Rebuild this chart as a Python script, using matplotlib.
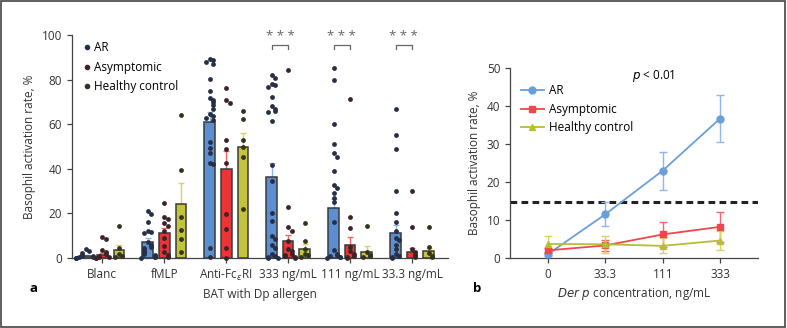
import matplotlib
matplotlib.use('Agg')
import matplotlib.pyplot as plt
from matplotlib.lines import Line2D
from matplotlib.patches import Rectangle
import numpy as np

plt.rcParams['font.family'] = ['Open Sans', 'DejaVu Sans']
plt.rcParams['font.size'] = 8

# ---- data, panel a ----
groups = ['Blanc', 'fMLP', 'Anti-Fc$_\\varepsilon$RI', '333 ng/mL', '111 ng/mL', '33.3 ng/mL']
series = ['AR', 'Asymptomic', 'Healthy control']

bar_ar = [0.8, 7.2, 61, 36.3, 22.3, 11]
bar_asym = [1.3, 11, 39.8, 7.8, 5.8, 2.8]
bar_hc = [3.5, 24, 50, 4.2, 2.8, 3.3]
err_ar = [0.7, 1.6, 4.5, 6.2, 4.0, 3.8]
err_asym = [0.8, 2.3, 8.0, 2.6, 3.5, 1.5]
err_hc = [2.2, 9.5, 6.0, 2.0, 2.6, 1.0]

dots_ar = [
    [3.9, 3.0, 2.2, 1.5, 1.0, 0.8, 0.5, 0.3, 0.2, 0.1, 0.0, 0.0],
    [21.2, 19.8, 16.3, 12.0, 11.5, 11.2, 7.0, 6.0, 5.0, 4.5, 4.0, 3.0, 2.5, 2.0, 1.5, 1.0, 0.5, 0.3, 0.0],
    [89.3, 88.8, 88.1, 86.9, 80.2, 74.9, 71.7, 70.9, 69.9, 68.4, 66.9, 64.5, 63.9, 63.0, 61.9,
     52.2, 49.5, 47.0, 42.8, 42.3, 4.5, 0.6],
    [82, 80.5, 78, 77.5, 76.5, 72, 68, 67, 66, 65.5, 61.5, 41.5, 34.5, 20, 16.5, 10, 8.5, 6,
     4.5, 2, 1, 0.5, 0.2, 0],
    [85, 80, 60, 51, 47, 45.5, 38.8, 32.8, 31.5, 29.2, 27, 25, 16, 3.5, 2, 1.5, 1, 0.5, 0.3, 0],
    [67, 55, 49, 30, 20, 16, 12, 9, 8, 6, 4, 2, 1, 0.5, 0],
]
dots_asym = [
    [9.6, 8.6, 3.6, 2.5, 1.6, 1.0, 0.6, 0.3, 0.0],
    [24.8, 18.2, 17.5, 15.5, 14.3, 12.0, 8.8, 5.5, 2.8, 1.3, 0.5],
    [76.1, 70.9, 69.4, 53.0, 49.0, 42.5, 19.7, 13.1, 4.5, 0.0],
    [84.5, 22.7, 13.8, 12.3, 7.5, 4, 3, 2, 1.5, 1, 0.5, 0],
    [71.2, 18.6, 13.4, 5, 3, 2, 1, 0.5, 0],
    [30.2, 14, 4, 2.5, 1.5, 0.5],
]
dots_hc = [
    [14.5, 4.3, 2.0, 1.0, 0.5],
    [64, 39.4, 18.2, 12.5, 8.5, 2.8],
    [66, 62.5, 53, 50, 45.5, 22],
    [15.8, 7.8, 3.9, 2, 1.3, 0.5],
    [14.5, 2.5, 1.5, 0.8, 0.3],
    [13.7, 5, 2.2, 1, 0.3],
]

# ---- data, panel b ----
conc = ['0', '33.3', '111', '333']
line_ar = [1.0, 11.5, 23.0, 36.7]
line_ar_err = [0.6, 3.2, 5.0, 6.2]
line_asym = [2.0, 3.3, 6.2, 8.2]
line_asym_err = [0.6, 1.4, 3.4, 4.0]
line_hc = [3.7, 3.6, 3.2, 4.6]
line_hc_err = [2.2, 2.2, 2.0, 2.4]
cutoff = 14.7

# colours
bar_cols = ['#5b8fd1', '#ec3438', '#c3c43c']
err_cols = ['#8fb6e6', '#f0676a', '#d6d65a']
dot_cols = ['#262f45', '#3b2326', '#33331f']
line_cols = ['#6a9fdc', '#f0474a', '#b9be30']
axis_col = '#444444'


def swarm_offsets(vals, dy=1.7, step=0.055):
    # simple deterministic spread for overlapping dots
    placed = []
    offs = []
    pattern = [0, 1, -1, 2, -2, 3, -3]
    for v in vals:
        n = sum(1 for p in placed if abs(p - v) < dy)
        offs.append(pattern[min(n, len(pattern) - 1)] * step)
        placed.append(v)
    return np.array(offs)


fig = plt.figure(figsize=(7.87, 3.28), dpi=100)

# ================= panel a =================
axa = fig.add_axes([72 / 787, 70 / 328, 376 / 787, 223 / 328])
x = np.arange(len(groups))
off = 0.267
w = 0.17
bars = [bar_ar, bar_asym, bar_hc]
errs = [err_ar, err_asym, err_hc]
dots = [dots_ar, dots_asym, dots_hc]
for k in range(3):
    xs = x + (k - 1) * off
    axa.errorbar(xs, bars[k], yerr=[np.zeros(len(xs)), errs[k]], fmt='none',
                 ecolor=err_cols[k], elinewidth=1.0, capsize=2.5, capthick=1.0, zorder=1)
    axa.bar(xs, bars[k], width=w, color=bar_cols[k], edgecolor='#3a3a3a',
            linewidth=1.1, zorder=2)
    for g in range(len(groups)):
        v = np.array(dots[k][g])
        axa.scatter(xs[g] + swarm_offsets(v), v, s=12, color=dot_cols[k],
                    zorder=3, clip_on=False, linewidths=0)

axa.set_xlim(-0.49, 5.58)
axa.set_ylim(0, 100)
axa.set_yticks([0, 20, 40, 60, 80, 100])
axa.set_xticks(x)
axa.set_xticklabels(groups)
axa.set_ylabel('Basophil activation rate, %', labelpad=4)
axa.set_xlabel('BAT with Dp allergen', labelpad=4)

# significance brackets
for g in [3, 4, 5]:
    x1 = g - off
    x2 = g
    axa.plot([x1, x1, x2, x2], [93.5, 95.3, 95.3, 93.5], color='#666666', lw=0.9,
             clip_on=False)
    axa.text((x1 + x2) / 2, 96.2, '* * *', ha='center', va='bottom', color='#666666',
             fontsize=9.5, clip_on=False)

handles_a = [Line2D([], [], marker='o', ls='none', color=dot_cols[k], markersize=3)
             for k in range(3)]
axa.legend(handles_a, series, loc='upper left', bbox_to_anchor=(-0.005, 1.02),
           frameon=False, handletextpad=0.1, labelspacing=0.55, handlelength=1.0,
           fontsize=8.5)

# ================= panel b =================
axb = fig.add_axes([510 / 787, 70 / 328, 248 / 787, 190 / 328])
xb = np.arange(len(conc))
axb.axhline(cutoff, color='#222222', lw=2.2, ls=(0, (2.2, 1.4)), zorder=1)
specs = [(line_ar, line_ar_err, 'o'), (line_asym, line_asym_err, 's'),
         (line_hc, line_hc_err, '^')]
for k, (yv, ye, mk) in enumerate(specs):
    axb.errorbar(xb, yv, yerr=ye, fmt='none', ecolor=err_cols[k], elinewidth=1.0,
                 capsize=3, capthick=1.0, zorder=2)
    axb.plot(xb, yv, color=line_cols[k], lw=1.3, marker=mk, markersize=5,
             label=series[k], zorder=3)
axb.set_xlim(-0.66, 3.66)
axb.set_ylim(0, 50)
axb.set_yticks([0, 10, 20, 30, 40, 50])
axb.set_xticks(xb)
axb.set_xticklabels(conc)
axb.set_ylabel('Basophil activation rate, %', labelpad=4)
axb.set_xlabel('$\\it{Der\\ p}$ concentration, ng/mL', labelpad=4)
axb.text(0.58, 0.96, '$\\it{p}$ < 0.01', transform=axb.transAxes, ha='center',
         va='center', fontsize=8.5)
axb.legend(loc='upper left', bbox_to_anchor=(0.0, 0.97), frameon=False,
           handlelength=2.0, handletextpad=0.4, labelspacing=0.45, fontsize=8.5)

for ax in (axa, axb):
    ax.spines['top'].set_visible(False)
    ax.spines['right'].set_visible(False)
    for s in ('left', 'bottom'):
        ax.spines[s].set_color(axis_col)
        ax.spines[s].set_linewidth(0.9)
    ax.tick_params(colors=axis_col, labelcolor='#333333', labelsize=8.5,
                   length=3.5, width=0.9)
    ax.xaxis.label.set_color('#333333')
    ax.yaxis.label.set_color('#333333')
    ax.xaxis.label.set_fontsize(8.5)
    ax.yaxis.label.set_fontsize(8.5)

fig.text(30 / 787, 1 - 288 / 328, 'a', fontsize=9.5, fontweight='bold',
         ha='left', va='center')
fig.text(473 / 787, 1 - 288 / 328, 'b', fontsize=9.5, fontweight='bold',
         ha='left', va='center')

# thin frame round the figure
fig.patches.append(Rectangle((0.001, 0.002), 0.997, 0.995, transform=fig.transFigure,
                             fill=False, edgecolor='#444444', lw=1.2))

fig.savefig('out.png', dpi=100)
